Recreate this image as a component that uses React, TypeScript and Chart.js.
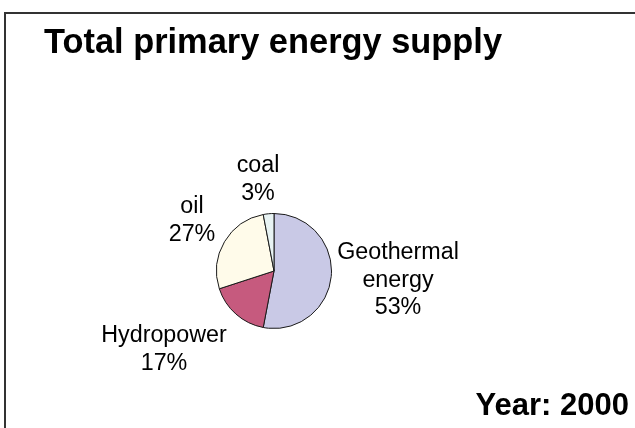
import React, { useEffect, useRef } from "react";
import { Chart, registerables } from "chart.js";

Chart.register(...registerables);

const categories = ["Geothermal energy", "Hydropower", "oil", "coal"];
const values = [53, 17, 27, 3];
const labelLines = [
  ["Geothermal", "energy", "53%"],
  ["Hydropower", "17%"],
  ["oil", "27%"],
  ["coal", "3%"],
];
const colors = ["#C9C9E6", "#C65A7E", "#FFFBEA", "#E8F3F3"];
const titleText = "Total primary energy supply";
const yearText = "Year: 2000";

// label anchor (center x, first baseline y) relative to pie center
const labelOffsets = [
  [124, -12],
  [-110, 71],
  [-82, -58],
  [-16, -99],
];

export default function App() {
  const ref = useRef<HTMLCanvasElement>(null);
  useEffect(() => {
    document.body.style.margin = "0";
    const textPlugin = {
      id: "texts",
      afterDraw(chart: any) {
        const ctx = chart.ctx;
        ctx.save();
        ctx.fillStyle = "#000";
        ctx.textBaseline = "alphabetic";
        ctx.font = "bold 34.4px 'Liberation Sans', Arial, sans-serif";
        ctx.textAlign = "left";
        ctx.fillText(titleText, 44, 53);
        ctx.font = "bold 31px 'Liberation Sans', Arial, sans-serif";
        ctx.textAlign = "right";
        ctx.fillText(yearText, 629, 415);
        const meta = chart.getDatasetMeta(0);
        const arc = meta.data[0];
        const cx = arc.x;
        const cy = arc.y;
        ctx.font = "23.3px 'Liberation Sans', Arial, sans-serif";
        ctx.textAlign = "center";
        labelLines.forEach((lines, i) => {
          const [dx, dy] = labelOffsets[i];
          lines.forEach((t, j) => {
            ctx.fillText(t, cx + dx, cy + dy + j * 27.5);
          });
        });
        ctx.restore();
      },
    };
    const chart = new Chart(ref.current!, {
      type: "pie",
      data: {
        labels: categories,
        datasets: [
          {
            data: values,
            backgroundColor: colors,
            borderColor: "#1a1a1a",
            borderWidth: 1,
          },
        ],
      },
      options: {
        animation: false,
        responsive: false,
        layout: { padding: { left: 216, top: 213, right: 303, bottom: 99 } },
        plugins: {
          legend: { display: false },
          tooltip: { enabled: false },
          title: { display: false },
        },
      },
      plugins: [textPlugin],
    });
    return () => chart.destroy();
  }, []);
  return (
    <div
      style={{
        position: "fixed",
        left: 0,
        top: 0,
        width: 635,
        height: 428,
        overflow: "hidden",
        background: "#fff",
      }}
    >
      <div
        style={{
          position: "absolute",
          left: 4,
          top: 12,
          width: 700,
          height: 500,
          border: "2px solid #333",
          boxSizing: "border-box",
        }}
      />
      <canvas
        ref={ref}
        width={635}
        height={428}
        style={{ position: "absolute", left: 0, top: 0, width: 635, height: 428 }}
      />
    </div>
  );
}
